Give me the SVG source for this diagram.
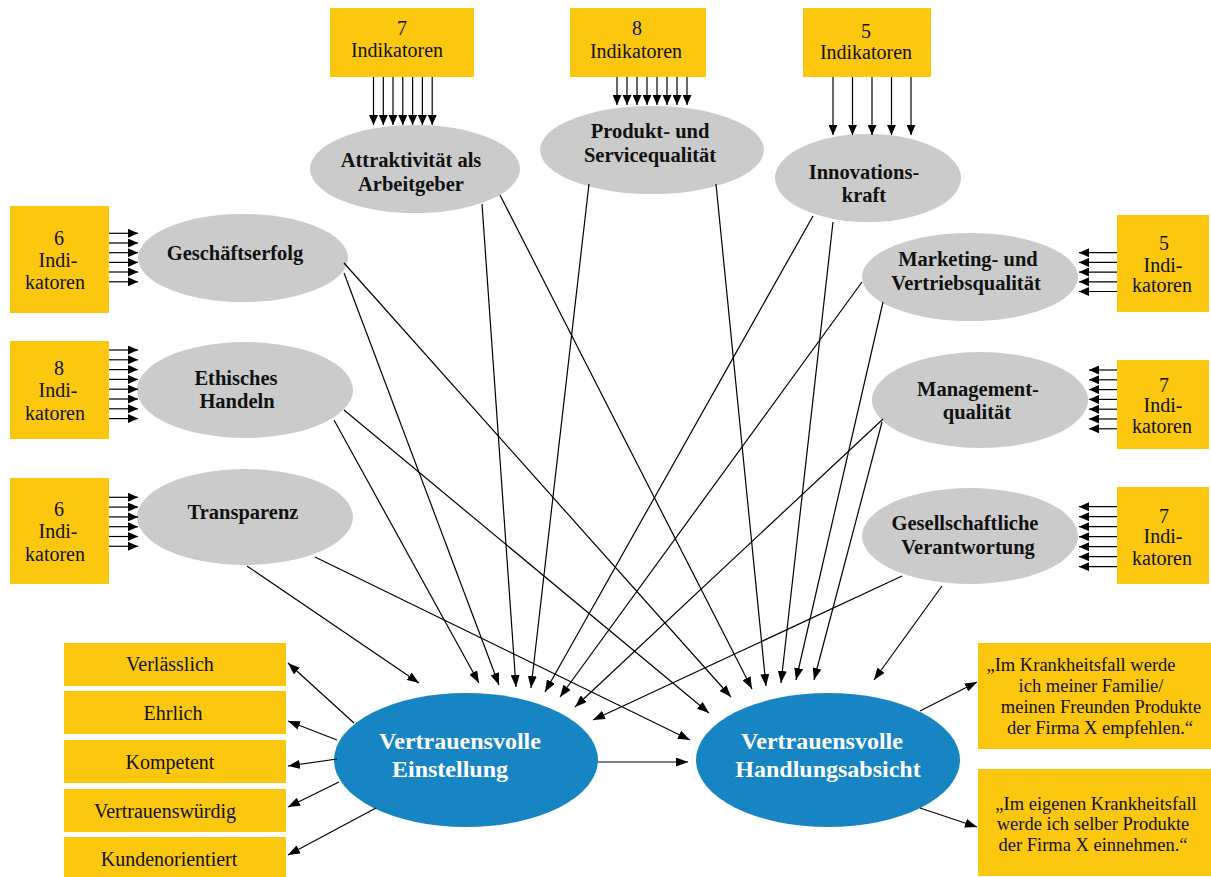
<svg xmlns="http://www.w3.org/2000/svg" width="1211" height="877" viewBox="0 0 1211 877">
<defs>
<marker id="ah" markerUnits="userSpaceOnUse" markerWidth="12" markerHeight="9" refX="12" refY="4.5" orient="auto">
<path d="M0,0 L12,4.5 L0,9 z" fill="#000"/>
</marker>
<marker id="ai" markerUnits="userSpaceOnUse" markerWidth="10" markerHeight="9" refX="10" refY="4.5" orient="auto">
<path d="M0,0 L10,4.5 L0,9 z" fill="#000"/>
</marker>
<style>
.box{fill:#FBC80F}
.ell{fill:#CBCBCB}
.blue{fill:#1785C4}
.t{font-family:"Liberation Serif","DejaVu Serif",serif;font-size:20px;fill:#111;text-anchor:middle}
.b{font-family:"Liberation Serif","DejaVu Serif",serif;font-size:20.5px;font-weight:bold;fill:#111;text-anchor:middle}
.w{font-family:"Liberation Serif","DejaVu Serif",serif;font-size:24px;font-weight:bold;fill:#fff;text-anchor:middle}
.q{font-family:"Liberation Serif","DejaVu Serif",serif;font-size:18.5px;fill:#111;text-anchor:middle}
.c{stroke:#000;stroke-width:1.2;fill:none;marker-end:url(#ah)}
.i{stroke:#000;stroke-width:1.2;fill:none;marker-end:url(#ai)}
</style>
</defs>
<rect width="1211" height="877" fill="#fff"/>

<!-- Top indicator boxes -->
<g id="ind-attr">
<rect class="box" x="330" y="8" width="144" height="69"/>
<text class="t" x="402" y="35">7</text>
<text class="t" x="397" y="57">Indikatoren</text>
</g>
<g id="ind-prod">
<rect class="box" x="570" y="8" width="136" height="69"/>
<text class="t" x="637" y="35">8</text>
<text class="t" x="636" y="58">Indikatoren</text>
</g>
<g id="ind-innov">
<rect class="box" x="803" y="8" width="128" height="69"/>
<text class="t" x="866" y="38">5</text>
<text class="t" x="866" y="59">Indikatoren</text>
</g>

<!-- Left indicator boxes -->
<g id="ind-gesch">
<rect class="box" x="10" y="206" width="99" height="107"/>
<text class="t" x="59" y="245">6</text>
<text class="t" x="58" y="267">Indi-</text>
<text class="t" x="55" y="289">katoren</text>
</g>
<g id="ind-ethik">
<rect class="box" x="10" y="341" width="99" height="98"/>
<text class="t" x="59" y="375">8</text>
<text class="t" x="58" y="397">Indi-</text>
<text class="t" x="55" y="420">katoren</text>
</g>
<g id="ind-transp">
<rect class="box" x="10" y="478" width="99" height="106"/>
<text class="t" x="59" y="516">6</text>
<text class="t" x="58" y="538">Indi-</text>
<text class="t" x="55" y="561">katoren</text>
</g>

<!-- Right indicator boxes -->
<g id="ind-mark">
<rect class="box" x="1117" y="215" width="92" height="97"/>
<text class="t" x="1164" y="250">5</text>
<text class="t" x="1163" y="272">Indi-</text>
<text class="t" x="1162" y="292">katoren</text>
</g>
<g id="ind-mgmt">
<rect class="box" x="1117" y="360" width="92" height="89"/>
<text class="t" x="1164" y="392">7</text>
<text class="t" x="1163" y="412">Indi-</text>
<text class="t" x="1162" y="433">katoren</text>
</g>
<g id="ind-ges">
<rect class="box" x="1117" y="487" width="92" height="97"/>
<text class="t" x="1164" y="523">7</text>
<text class="t" x="1163" y="543">Indi-</text>
<text class="t" x="1162" y="565">katoren</text>
</g>

<!-- Construct ellipses -->
<g id="attraktivitaet">
<ellipse class="ell" cx="415" cy="169" rx="105" ry="44"/>
<text class="b" x="411" y="167">Attraktivität als</text>
<text class="b" x="411" y="191">Arbeitgeber</text>
</g>
<g id="produkt">
<ellipse class="ell" cx="652" cy="150" rx="112" ry="44"/>
<text class="b" x="650" y="138">Produkt- und</text>
<text class="b" x="650" y="162">Servicequalität</text>
</g>
<g id="innovation">
<ellipse class="ell" cx="868" cy="178" rx="93" ry="44"/>
<text class="b" x="864" y="179">Innovations-</text>
<text class="b" x="864" y="202">kraft</text>
</g>
<g id="geschaeftserfolg">
<ellipse class="ell" cx="243" cy="258" rx="105" ry="44"/>
<text class="b" x="235" y="260">Geschäftserfolg</text>
</g>
<g id="ethisch">
<ellipse class="ell" cx="245" cy="390" rx="108" ry="48"/>
<text class="b" x="236" y="385">Ethisches</text>
<text class="b" x="237" y="408">Handeln</text>
</g>
<g id="transparenz">
<ellipse class="ell" cx="245" cy="517" rx="108" ry="48"/>
<text class="b" x="243" y="519">Transparenz</text>
</g>
<g id="marketing">
<ellipse class="ell" cx="970" cy="277" rx="108" ry="44"/>
<text class="b" x="968" y="266">Marketing- und</text>
<text class="b" x="966" y="290">Vertriebsqualität</text>
</g>
<g id="management">
<ellipse class="ell" cx="980" cy="400" rx="108" ry="48"/>
<text class="b" x="978" y="396">Management-</text>
<text class="b" x="977" y="419">qualität</text>
</g>
<g id="gesellschaft">
<ellipse class="ell" cx="970" cy="536" rx="108" ry="48"/>
<text class="b" x="965" y="530">Gesellschaftliche</text>
<text class="b" x="968" y="554">Verantwortung</text>
</g>

<!-- Outcome ellipses -->
<g id="einstellung">
<ellipse class="blue" cx="466" cy="760" rx="132" ry="67"/>
<text class="w" x="460" y="749">Vertrauensvolle</text>
<text class="w" x="450" y="777">Einstellung</text>
</g>
<g id="handlungsabsicht">
<ellipse class="blue" cx="828" cy="760" rx="132" ry="67"/>
<text class="w" x="822" y="749">Vertrauensvolle</text>
<text class="w" x="828" y="777">Handlungsabsicht</text>
</g>

<!-- Attribute boxes -->
<g id="verlaesslich"><rect class="box" x="64" y="643" width="222" height="43"/><text class="t" x="170" y="671">Verlässlich</text></g>
<g id="ehrlich"><rect class="box" x="64" y="691" width="222" height="43"/><text class="t" x="173" y="720">Ehrlich</text></g>
<g id="kompetent"><rect class="box" x="64" y="740" width="222" height="43"/><text class="t" x="170" y="769">Kompetent</text></g>
<g id="vertrauenswuerdig"><rect class="box" x="64" y="789" width="222" height="43"/><text class="t" x="165" y="818">Vertrauenswürdig</text></g>
<g id="kundenorientiert"><rect class="box" x="64" y="837" width="222" height="40"/><text class="t" x="169" y="866">Kundenorientiert</text></g>

<!-- Statement boxes -->
<g id="aussage1">
<rect class="box" x="978" y="643" width="233" height="106"/>
<text class="q" x="1081" y="671">„Im  Krankheitsfall werde</text>
<text class="q" x="1091" y="692">ich meiner Familie/</text>
<text class="q" x="1101" y="713">meinen Freunden Produkte</text>
<text class="q" x="1100" y="734">der  Firma X empfehlen.“</text>
</g>
<g id="aussage2">
<rect class="box" x="978" y="769" width="233" height="107"/>
<text class="q" x="1096" y="810">„Im eigenen Krankheitsfall</text>
<text class="q" x="1093" y="830">werde ich selber Produkte</text>
<text class="q" x="1093" y="851">der Firma X einnehmen.“</text>
</g>

<!-- Connectors -->
<g id="connectors">
<line class="i" x1="373.5" y1="77" x2="373.5" y2="125"/>
<line class="i" x1="383.3" y1="77" x2="383.3" y2="125"/>
<line class="i" x1="393" y1="77" x2="393" y2="125"/>
<line class="i" x1="402.8" y1="77" x2="402.8" y2="125"/>
<line class="i" x1="412.6" y1="77" x2="412.6" y2="125"/>
<line class="i" x1="422.4" y1="77" x2="422.4" y2="125"/>
<line class="i" x1="432.2" y1="77" x2="432.2" y2="125"/>

<line class="i" x1="617" y1="77" x2="617" y2="105"/>
<line class="i" x1="627" y1="77" x2="627" y2="105"/>
<line class="i" x1="637" y1="77" x2="637" y2="105"/>
<line class="i" x1="647" y1="77" x2="647" y2="105"/>
<line class="i" x1="657" y1="77" x2="657" y2="105"/>
<line class="i" x1="667" y1="77" x2="667" y2="105"/>
<line class="i" x1="677" y1="77" x2="677" y2="105"/>
<line class="i" x1="687" y1="77" x2="687" y2="105"/>

<line class="i" x1="833" y1="77" x2="833" y2="135"/>
<line class="i" x1="852.5" y1="77" x2="852.5" y2="135"/>
<line class="i" x1="872" y1="77" x2="872" y2="135"/>
<line class="i" x1="891.5" y1="77" x2="891.5" y2="135"/>
<line class="i" x1="911" y1="77" x2="911" y2="135"/>

<line class="i" x1="109" y1="233.3" x2="138" y2="233.3"/>
<line class="i" x1="109" y1="243" x2="138" y2="243"/>
<line class="i" x1="109" y1="252.7" x2="138" y2="252.7"/>
<line class="i" x1="109" y1="262.4" x2="138" y2="262.4"/>
<line class="i" x1="109" y1="272" x2="138" y2="272"/>
<line class="i" x1="109" y1="281.8" x2="138" y2="281.8"/>

<line class="i" x1="109" y1="350" x2="138" y2="350"/>
<line class="i" x1="109" y1="359.8" x2="138" y2="359.8"/>
<line class="i" x1="109" y1="369.6" x2="138" y2="369.6"/>
<line class="i" x1="109" y1="379.4" x2="138" y2="379.4"/>
<line class="i" x1="109" y1="389.2" x2="138" y2="389.2"/>
<line class="i" x1="109" y1="399" x2="138" y2="399"/>
<line class="i" x1="109" y1="408.8" x2="138" y2="408.8"/>
<line class="i" x1="109" y1="418.6" x2="138" y2="418.6"/>

<line class="i" x1="109" y1="497.3" x2="138" y2="497.3"/>
<line class="i" x1="109" y1="507.1" x2="138" y2="507.1"/>
<line class="i" x1="109" y1="516.9" x2="138" y2="516.9"/>
<line class="i" x1="109" y1="526.7" x2="138" y2="526.7"/>
<line class="i" x1="109" y1="536.5" x2="138" y2="536.5"/>
<line class="i" x1="109" y1="546.3" x2="138" y2="546.3"/>

<line class="i" x1="1117" y1="252.7" x2="1079" y2="252.7"/>
<line class="i" x1="1117" y1="262.4" x2="1079" y2="262.4"/>
<line class="i" x1="1117" y1="272.1" x2="1079" y2="272.1"/>
<line class="i" x1="1117" y1="281.8" x2="1079" y2="281.8"/>
<line class="i" x1="1117" y1="291.5" x2="1079" y2="291.5"/>

<line class="i" x1="1117" y1="370" x2="1089" y2="370"/>
<line class="i" x1="1117" y1="379.8" x2="1089" y2="379.8"/>
<line class="i" x1="1117" y1="389.6" x2="1089" y2="389.6"/>
<line class="i" x1="1117" y1="399.4" x2="1089" y2="399.4"/>
<line class="i" x1="1117" y1="409.2" x2="1089" y2="409.2"/>
<line class="i" x1="1117" y1="419" x2="1089" y2="419"/>
<line class="i" x1="1117" y1="428.8" x2="1089" y2="428.8"/>

<line class="i" x1="1117" y1="506.7" x2="1079" y2="506.7"/>
<line class="i" x1="1117" y1="516.7" x2="1079" y2="516.7"/>
<line class="i" x1="1117" y1="526.7" x2="1079" y2="526.7"/>
<line class="i" x1="1117" y1="536.7" x2="1079" y2="536.7"/>
<line class="i" x1="1117" y1="546.7" x2="1079" y2="546.7"/>
<line class="i" x1="1117" y1="556.7" x2="1079" y2="556.7"/>
<line class="i" x1="1117" y1="566.7" x2="1079" y2="566.7"/>

<line class="c" x1="247" y1="566" x2="419" y2="683"/>
<line class="c" x1="334" y1="420" x2="479" y2="683"/>
<line class="c" x1="344" y1="273" x2="499" y2="685"/>
<line class="c" x1="482" y1="204" x2="516" y2="687"/>
<line class="c" x1="589" y1="184" x2="531" y2="688"/>
<line class="c" x1="813" y1="216" x2="545" y2="692"/>
<line class="c" x1="862" y1="282" x2="560" y2="697"/>
<line class="c" x1="883" y1="419" x2="575" y2="707"/>
<line class="c" x1="902" y1="576" x2="593" y2="720"/>
<line class="c" x1="315" y1="557" x2="690" y2="740"/>
<line class="c" x1="344" y1="410" x2="709" y2="713"/>
<line class="c" x1="344" y1="263" x2="731" y2="697"/>
<line class="c" x1="500" y1="195" x2="752" y2="689"/>
<line class="c" x1="716" y1="184" x2="766" y2="686"/>
<line class="c" x1="833" y1="222" x2="781" y2="683"/>
<line class="c" x1="883" y1="302" x2="796" y2="680"/>
<line class="c" x1="882" y1="422" x2="814" y2="680"/>
<line class="c" x1="942" y1="586" x2="874" y2="680"/>
<line class="c" x1="598" y1="762" x2="688" y2="762"/>
<line class="c" x1="354" y1="723" x2="288" y2="663"/>
<line class="c" x1="337" y1="740" x2="288" y2="721"/>
<line class="c" x1="337" y1="759" x2="288" y2="766"/>
<line class="c" x1="339" y1="782" x2="288" y2="807"/>
<line class="c" x1="376" y1="808" x2="288" y2="855"/>
<line class="c" x1="920" y1="711" x2="977" y2="682"/>
<line class="c" x1="920" y1="808" x2="977" y2="827"/>
</g>
</svg>
